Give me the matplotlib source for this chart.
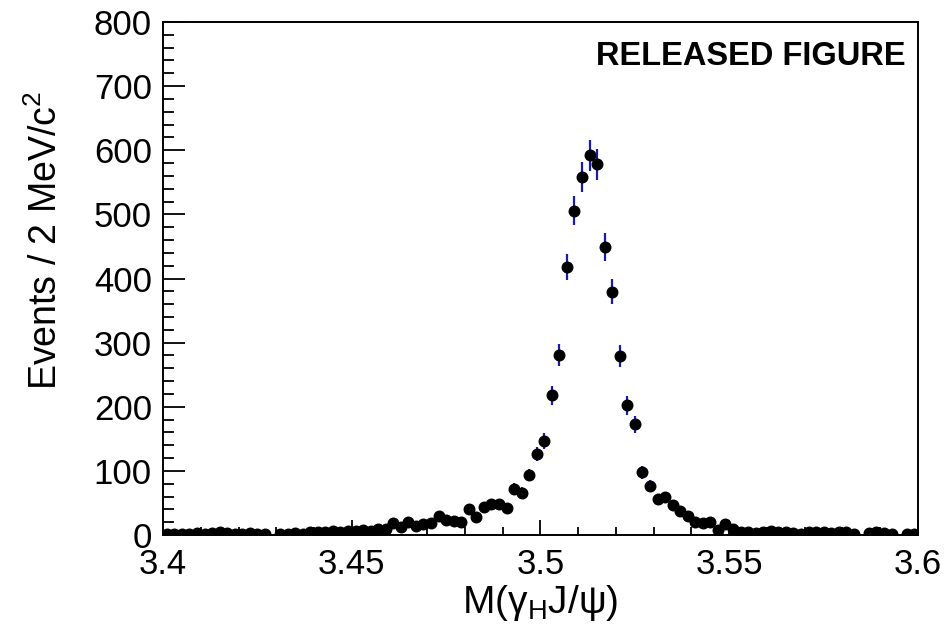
import numpy as np
import matplotlib
matplotlib.use('Agg')
import matplotlib.pyplot as plt
from matplotlib.ticker import MultipleLocator

plt.rcParams['font.family'] = ['Liberation Sans', 'DejaVu Sans']
plt.rcParams['mathtext.fontset'] = 'custom'
plt.rcParams['mathtext.rm'] = 'Liberation Sans'
plt.rcParams['mathtext.it'] = 'Liberation Sans:italic'

# bin centres, 2 MeV bins from 3.4 to 3.6
bin_edges = np.linspace(3.4, 3.6, 101)
bin_centres = 0.5 * (bin_edges[1:] + bin_edges[:-1])

# events per bin
counts_a = [2, 1, 2, 2, 3, 2, 3, 5, 3, 2, 2, 3, 2, 1, 0, 2, 1, 3, 2, 4, 5, 4, 6, 5, 6]
counts_b = [7, 8, 6, 10, 9, 19, 12, 20, 14, 17, 19, 30, 23, 22, 21, 41, 28, 44, 49, 49, 42, 72, 66, 94, 126]
counts_c = [147, 218, 281, 418, 506, 558, 592, 578, 449, 379, 279, 202, 173, 98, 77, 56, 60, 47, 38, 30, 20, 19, 21, 8, 17]
counts_d = [10, 4, 5, 3, 5, 6, 4, 5, 3, 2, 5, 5, 4, 3, 5, 5, 2, 0, 3, 4, 3, 2, 0, 2, 2]
counts = np.array(counts_a + counts_b + counts_c + counts_d, dtype=float)

x_ticks = [3.4, 3.45, 3.5, 3.55, 3.6]
x_tick_labels = ['3.4', '3.45', '3.5', '3.55', '3.6']
y_ticks = [0, 100, 200, 300, 400, 500, 600, 700, 800]

# empty bins are not drawn
shown = counts > 0
x = bin_centres[shown]
y = counts[shown]
err = np.sqrt(y)

fig = plt.figure(figsize=(9.45, 6.36), dpi=100)
ax = fig.add_axes([0.1725, 0.1588, 0.7989, 0.8066])

ax.errorbar(x, y, yerr=err, fmt='none', ecolor='#1a1aa8', elinewidth=1.6, capsize=0, zorder=2)
ax.plot(x, y, 'o', color='black', markersize=7.6, zorder=3)

ax.set_xlim(3.4, 3.6)
ax.set_ylim(0, 800)
ax.set_xticks(x_ticks)
ax.set_xticklabels(x_tick_labels)
ax.set_yticks(y_ticks)
ax.xaxis.set_minor_locator(MultipleLocator(0.01))
ax.yaxis.set_minor_locator(MultipleLocator(20))

ax.tick_params(which='both', direction='in', top=False, right=False, labelsize=25, width=1.3)
ax.tick_params(axis='x', which='major', length=11, pad=9)
ax.tick_params(axis='x', which='minor', length=6)
ax.tick_params(axis='y', which='major', length=16, pad=8)
ax.tick_params(axis='y', which='minor', length=8)
for spine in ax.spines.values():
    spine.set_linewidth(1.4)

fig.text(46 / 945, 1 - 240 / 636, 'Events / 2 MeV/c$^{2}$', rotation=90, fontsize=27,
         ha='center', va='center')
fig.text(540 / 945, 1 - 603 / 636, 'M(γ$_{\\rm H}$J/ψ)', fontsize=28, ha='center', va='center')

ax.text(0.983, 0.932, 'RELEASED FIGURE', transform=ax.transAxes, fontsize=23.5,
        fontweight='bold', ha='right', va='center')

fig.savefig('out.png', dpi=100)
